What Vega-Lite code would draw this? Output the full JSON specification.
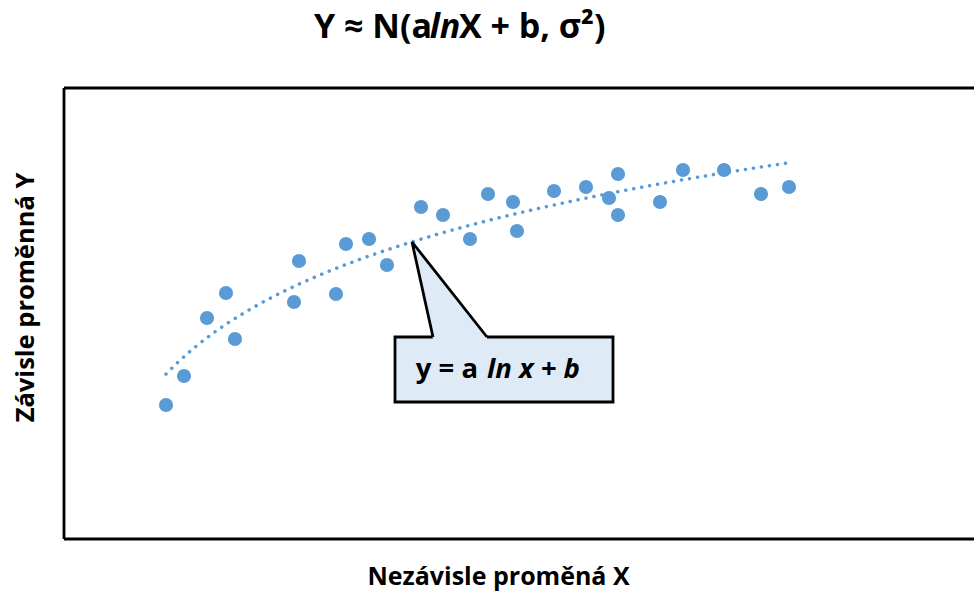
{
  "$schema": "https://vega.github.io/schema/vega-lite/v6.json",
  "autosize": {"type": "none"},
  "padding": {"left": 64, "top": 88, "right": 0, "bottom": 52},
  "width": 910,
  "height": 451,
  "background": "white",
  "config": {"view": {"stroke": null}, "font": "Open Sans"},
  "datasets": {
    "points": [
      {"x": 102, "y": 134}, {"x": 120, "y": 163}, {"x": 143, "y": 221}, {"x": 162, "y": 246},
      {"x": 171, "y": 200}, {"x": 230, "y": 237}, {"x": 235, "y": 278}, {"x": 272, "y": 245},
      {"x": 282, "y": 295}, {"x": 305, "y": 300}, {"x": 323, "y": 274}, {"x": 357, "y": 332},
      {"x": 379, "y": 324}, {"x": 406, "y": 300}, {"x": 424, "y": 345}, {"x": 449, "y": 337},
      {"x": 453, "y": 308}, {"x": 490, "y": 348}, {"x": 522, "y": 352}, {"x": 545, "y": 341},
      {"x": 554, "y": 365}, {"x": 554, "y": 324}, {"x": 596, "y": 337}, {"x": 619, "y": 369},
      {"x": 660, "y": 369}, {"x": 697, "y": 345}, {"x": 725, "y": 352}
    ],
    "frame": [
      {"x": 0, "y": 0, "x2": 0, "y2": 451},
      {"x": 0, "y": 451, "x2": 910, "y2": 451},
      {"x": 0, "y": 0, "x2": 910, "y2": 0}
    ],
    "box": [{"x": 331, "x2": 549, "y": 137, "y2": 202}],
    "tail": [
      {"x": 348, "y": 297, "y2": 297},
      {"x": 369, "y": 270.4, "y2": 200},
      {"x": 423, "y": 202, "y2": 200}
    ],
    "tailEdge": [
      {"i": 1, "x": 369, "y": 202},
      {"i": 2, "x": 348, "y": 297},
      {"i": 3, "x": 423, "y": 202}
    ]
  },
  "layer": [
    {
      "data": {"name": "frame"},
      "mark": {"type": "rule", "color": "black", "strokeWidth": 2.8},
      "encoding": {
        "x": {"field": "x", "type": "quantitative", "scale": {"domain": [0, 910], "nice": false, "zero": false},
              "axis": {"title": "Nezávisle proměná X", "labels": false, "ticks": false, "domain": false, "grid": false,
                       "titleFont": "Open Sans", "titleFontSize": 25, "titleFontWeight": "bold", "titleColor": "black",
                       "titleX": 434, "titleY": 45, "titleAlign": "center", "titleBaseline": "alphabetic"}},
        "x2": {"field": "x2"},
        "y": {"field": "y", "type": "quantitative", "scale": {"domain": [0, 451], "nice": false, "zero": false},
              "axis": {"title": "Závisle proměnná Y", "labels": false, "ticks": false, "domain": false, "grid": false,
                       "titleFont": "Open Sans", "titleFontSize": 25.5, "titleFontWeight": "bold", "titleColor": "black",
                       "titleX": -31, "titleY": 209, "titleAngle": -90, "titleAlign": "center", "titleBaseline": "alphabetic"}},
        "y2": {"field": "y2"}
      }
    },
    {
      "data": {"name": "points"},
      "transform": [{"regression": "y", "on": "x", "method": "log", "extent": [102, 726]}],
      "mark": {"type": "line", "color": "#5B9BD5", "strokeWidth": 3.5, "strokeDash": [0.1, 8], "strokeCap": "round"},
      "encoding": {
        "x": {"field": "x", "type": "quantitative"},
        "y": {"field": "y", "type": "quantitative"}
      }
    },
    {
      "data": {"name": "points"},
      "mark": {"type": "circle", "color": "#5B9BD5", "opacity": 1, "size": 200},
      "encoding": {
        "x": {"field": "x", "type": "quantitative"},
        "y": {"field": "y", "type": "quantitative"}
      }
    },
    {
      "data": {"name": "box"},
      "mark": {"type": "rect", "fill": "#DEEBF7", "stroke": "black", "strokeWidth": 2.8},
      "encoding": {
        "x": {"field": "x", "type": "quantitative"},
        "x2": {"field": "x2"},
        "y": {"field": "y", "type": "quantitative"},
        "y2": {"field": "y2"}
      }
    },
    {
      "data": {"name": "tail"},
      "mark": {"type": "area", "fill": "#DEEBF7", "opacity": 1},
      "encoding": {
        "x": {"field": "x", "type": "quantitative"},
        "y": {"field": "y", "type": "quantitative"},
        "y2": {"field": "y2"}
      }
    },
    {
      "data": {"name": "tailEdge"},
      "mark": {"type": "line", "color": "black", "strokeWidth": 2.8, "strokeJoin": "miter"},
      "encoding": {
        "x": {"field": "x", "type": "quantitative"},
        "y": {"field": "y", "type": "quantitative"},
        "order": {"field": "i", "type": "quantitative"}
      }
    },
    {
      "data": {"values": [{"x": 414, "y": 161, "t": "y = a"}]},
      "mark": {"type": "text", "align": "right", "baseline": "alphabetic", "font": "Open Sans", "fontSize": 27.5, "fontWeight": "bold", "color": "black"},
      "encoding": {"x": {"field": "x", "type": "quantitative"}, "y": {"field": "y", "type": "quantitative"}, "text": {"field": "t"}}
    },
    {
      "data": {"values": [{"x": 423, "y": 161, "t": "ln x + b"}]},
      "mark": {"type": "text", "align": "left", "baseline": "alphabetic", "font": "Open Sans", "fontSize": 27.5, "fontWeight": "bold", "fontStyle": "italic", "color": "black"},
      "encoding": {"x": {"field": "x", "type": "quantitative"}, "y": {"field": "y", "type": "quantitative"}, "text": {"field": "t"}}
    },
    {
      "data": {"values": [{"x": 368, "y": 501, "t": "Y ≈ N(a"}]},
      "mark": {"type": "text", "align": "right", "baseline": "alphabetic", "font": "Open Sans", "fontSize": 34, "fontWeight": "bold", "color": "black"},
      "encoding": {"x": {"field": "x", "type": "quantitative"}, "y": {"field": "y", "type": "quantitative"}, "text": {"field": "t"}}
    },
    {
      "data": {"values": [{"x": 381, "y": 501, "t": "ln"}]},
      "mark": {"type": "text", "align": "center", "baseline": "alphabetic", "font": "Open Sans", "fontSize": 34, "fontWeight": "bold", "fontStyle": "italic", "color": "black"},
      "encoding": {"x": {"field": "x", "type": "quantitative"}, "y": {"field": "y", "type": "quantitative"}, "text": {"field": "t"}}
    },
    {
      "data": {"values": [{"x": 395, "y": 501, "t": "X + b, σ²)"}]},
      "mark": {"type": "text", "align": "left", "baseline": "alphabetic", "font": "Open Sans", "fontSize": 34, "fontWeight": "bold", "color": "black"},
      "encoding": {"x": {"field": "x", "type": "quantitative"}, "y": {"field": "y", "type": "quantitative"}, "text": {"field": "t"}}
    }
  ]
}
